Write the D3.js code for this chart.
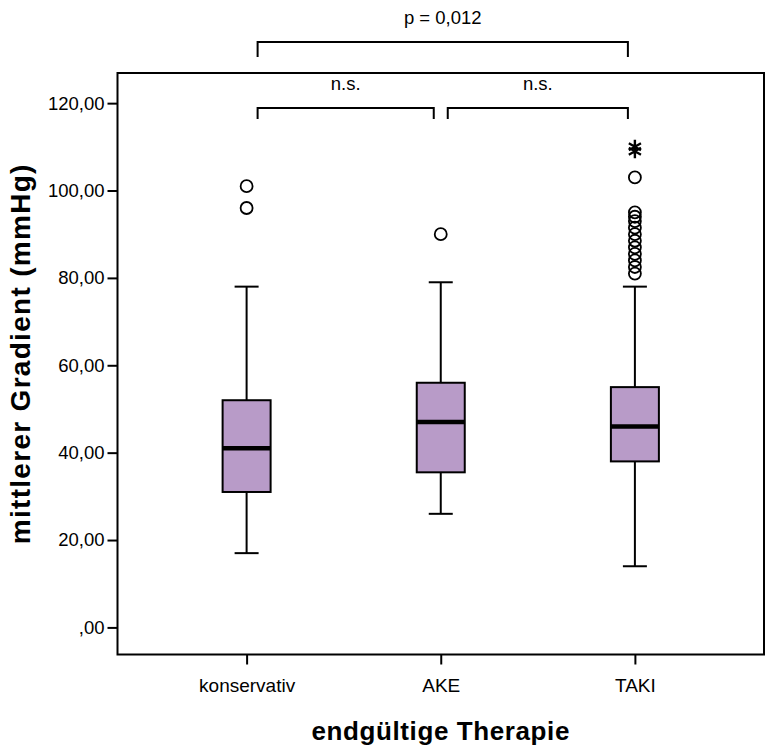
<!DOCTYPE html>
<html>
<head>
<meta charset="utf-8">
<script src="https://cdn.jsdelivr.net/npm/d3@7"></script>
<style>
  html, body { margin: 0; padding: 0; background: #fff; }
  svg { display: block; }
  text { font-family: "Liberation Sans", Arial, sans-serif; fill: #000; }
</style>
</head>
<body>
<svg id="chart" width="765" height="749"></svg>
<script>
// Groups and five-number summaries (mean gradient, mmHg)
const categories = ["konservativ", "AKE", "TAKI"];
const whiskerLow  = [17, 26, 14];
const q1          = [31, 35.5, 38];
const median      = [41, 47, 46];
const q3          = [52, 56, 55];
const whiskerHigh = [78, 79, 78];
// Outliers (circles) and extremes (asterisks) per group
const outliers = [
  [101, 96],
  [90],
  [103, 95, 94, 93, 91.5, 90, 88.5, 87, 85.5, 84, 82.5, 81]
];
const extremes = [[], [], [110, 109]];
const yTicks = [0, 20, 40, 60, 80, 100, 120];
// Pairwise comparisons shown above the plot
const comparisons = [
  { from: "konservativ", to: "TAKI", label: "p = 0,012", level: 0 },
  { from: "konservativ", to: "AKE",  label: "n.s.",      level: 1 },
  { from: "AKE",         to: "TAKI", label: "n.s.",      level: 1 }
];

const svg = d3.select("#chart");
const frame = { left: 117.5, right: 764, top: 73, bottom: 654.5 };

const x = d3.scalePoint().domain(categories)
  .range([frame.left, frame.right]).padding(0.665);
const y = d3.scaleLinear().domain([-6.2, 126.9])
  .range([frame.bottom, frame.top]);

const fmt = v => v === 0 ? ",00" : d3.format(".2f")(v).replace(".", ",");

// Plot frame
svg.append("rect")
  .attr("x", frame.left).attr("y", frame.top)
  .attr("width", frame.right - frame.left)
  .attr("height", frame.bottom - frame.top)
  .attr("fill", "none").attr("stroke", "#000").attr("stroke-width", 2);

// Y axis
const yAxis = svg.append("g")
  .attr("transform", `translate(${frame.left},0)`)
  .call(d3.axisLeft(y).tickValues(yTicks).tickFormat(fmt).tickSize(10).tickPadding(3));
yAxis.select(".domain").remove();
yAxis.selectAll(".tick line").attr("stroke", "#000").attr("stroke-width", 2);
yAxis.selectAll(".tick text")
  .style("font-size", "18.5px").attr("fill", "#000");

// X axis
const xAxis = svg.append("g")
  .attr("transform", `translate(0,${frame.bottom})`)
  .call(d3.axisBottom(x).tickSize(10).tickPadding(14));
xAxis.select(".domain").remove();
xAxis.selectAll(".tick line").attr("stroke", "#000").attr("stroke-width", 2);
xAxis.selectAll(".tick text")
  .style("font-size", "19px").attr("fill", "#000");

// Axis titles
svg.append("text")
  .attr("x", (frame.left + frame.right) / 2).attr("y", 740)
  .attr("text-anchor", "middle")
  .style("font-size", "26px").style("font-weight", "bold")
  .style("letter-spacing", "0.6px")
  .text("endgültige Therapie");

svg.append("text")
  .attr("transform", `translate(30,${(frame.top + frame.bottom) / 2 - 10}) rotate(-90)`)
  .attr("text-anchor", "middle")
  .style("font-size", "28px").style("font-weight", "bold")
  .style("letter-spacing", "1.3px")
  .text("mittlerer Gradient (mmHg)");

// Boxplots
const boxW = 48, capW = 24;
const boxes = categories.map((c, i) => ({
  c, lo: whiskerLow[i], q1: q1[i], med: median[i], q3: q3[i], hi: whiskerHigh[i],
  out: outliers[i], ext: extremes[i]
}));

const g = svg.append("g");
const b = g.selectAll("g.box").data(boxes).join("g").attr("class", "box");

// whisker stems
b.append("line")
  .attr("x1", d => x(d.c)).attr("x2", d => x(d.c))
  .attr("y1", d => y(d.hi)).attr("y2", d => y(d.q3))
  .attr("stroke", "#000").attr("stroke-width", 2);
b.append("line")
  .attr("x1", d => x(d.c)).attr("x2", d => x(d.c))
  .attr("y1", d => y(d.q1)).attr("y2", d => y(d.lo))
  .attr("stroke", "#000").attr("stroke-width", 2);
// whisker caps
b.append("line")
  .attr("x1", d => x(d.c) - capW / 2).attr("x2", d => x(d.c) + capW / 2)
  .attr("y1", d => y(d.hi)).attr("y2", d => y(d.hi))
  .attr("stroke", "#000").attr("stroke-width", 2);
b.append("line")
  .attr("x1", d => x(d.c) - capW / 2).attr("x2", d => x(d.c) + capW / 2)
  .attr("y1", d => y(d.lo)).attr("y2", d => y(d.lo))
  .attr("stroke", "#000").attr("stroke-width", 2);
// IQR box
b.append("rect")
  .attr("x", d => x(d.c) - boxW / 2).attr("width", boxW)
  .attr("y", d => y(d.q3)).attr("height", d => y(d.q1) - y(d.q3))
  .attr("fill", "#b89bc8").attr("stroke", "#000").attr("stroke-width", 2);
// median
b.append("line")
  .attr("x1", d => x(d.c) - boxW / 2).attr("x2", d => x(d.c) + boxW / 2)
  .attr("y1", d => y(d.med)).attr("y2", d => y(d.med))
  .attr("stroke", "#000").attr("stroke-width", 4.5);

// outliers
b.selectAll("circle")
  .data(d => d.out.map(v => ({ c: d.c, v })))
  .join("circle")
  .attr("cx", d => x(d.c)).attr("cy", d => y(d.v)).attr("r", 6)
  .attr("fill", "none").attr("stroke", "#000").attr("stroke-width", 1.8);

// extremes (asterisks)
const star = (cx, cy, r) => {
  let p = "";
  for (let k = 0; k < 3; k++) {
    const a = Math.PI / 2 + k * Math.PI / 3;
    const dx = r * Math.cos(a), dy = r * Math.sin(a);
    p += `M${cx - dx},${cy - dy}L${cx + dx},${cy + dy}`;
  }
  return p;
};
b.selectAll("path.ext")
  .data(d => d.ext.map(v => ({ c: d.c, v })))
  .join("path").attr("class", "ext")
  .attr("d", d => star(x(d.c), y(d.v), 7))
  .attr("stroke", "#000").attr("stroke-width", 2.4).attr("fill", "none");

// Significance brackets
const levelY = [42, 108];
const tickLen = [15, 11];
const endX = (cat, side) => {
  // bracket ends sit slightly inside group centres
  const i = categories.indexOf(cat);
  if (i === 0) return x(cat) + 11;
  if (i === categories.length - 1) return x(cat) - 7;
  return x(cat) + (side === "left" ? 7 : -7);
};
comparisons.forEach(cmp => {
  const x1 = endX(cmp.from, "left"), x2 = endX(cmp.to, "right");
  const yy = levelY[cmp.level], t = tickLen[cmp.level];
  svg.append("path")
    .attr("d", `M${x1},${yy + t}V${yy}H${x2}V${yy + t}`)
    .attr("fill", "none").attr("stroke", "#000").attr("stroke-width", 2);
  svg.append("text")
    .attr("x", (x1 + x2) / 2).attr("y", yy - 18)
    .attr("text-anchor", "middle")
    .style("font-size", "18.5px")
    .text(cmp.label);
});
</script>
</body>
</html>
